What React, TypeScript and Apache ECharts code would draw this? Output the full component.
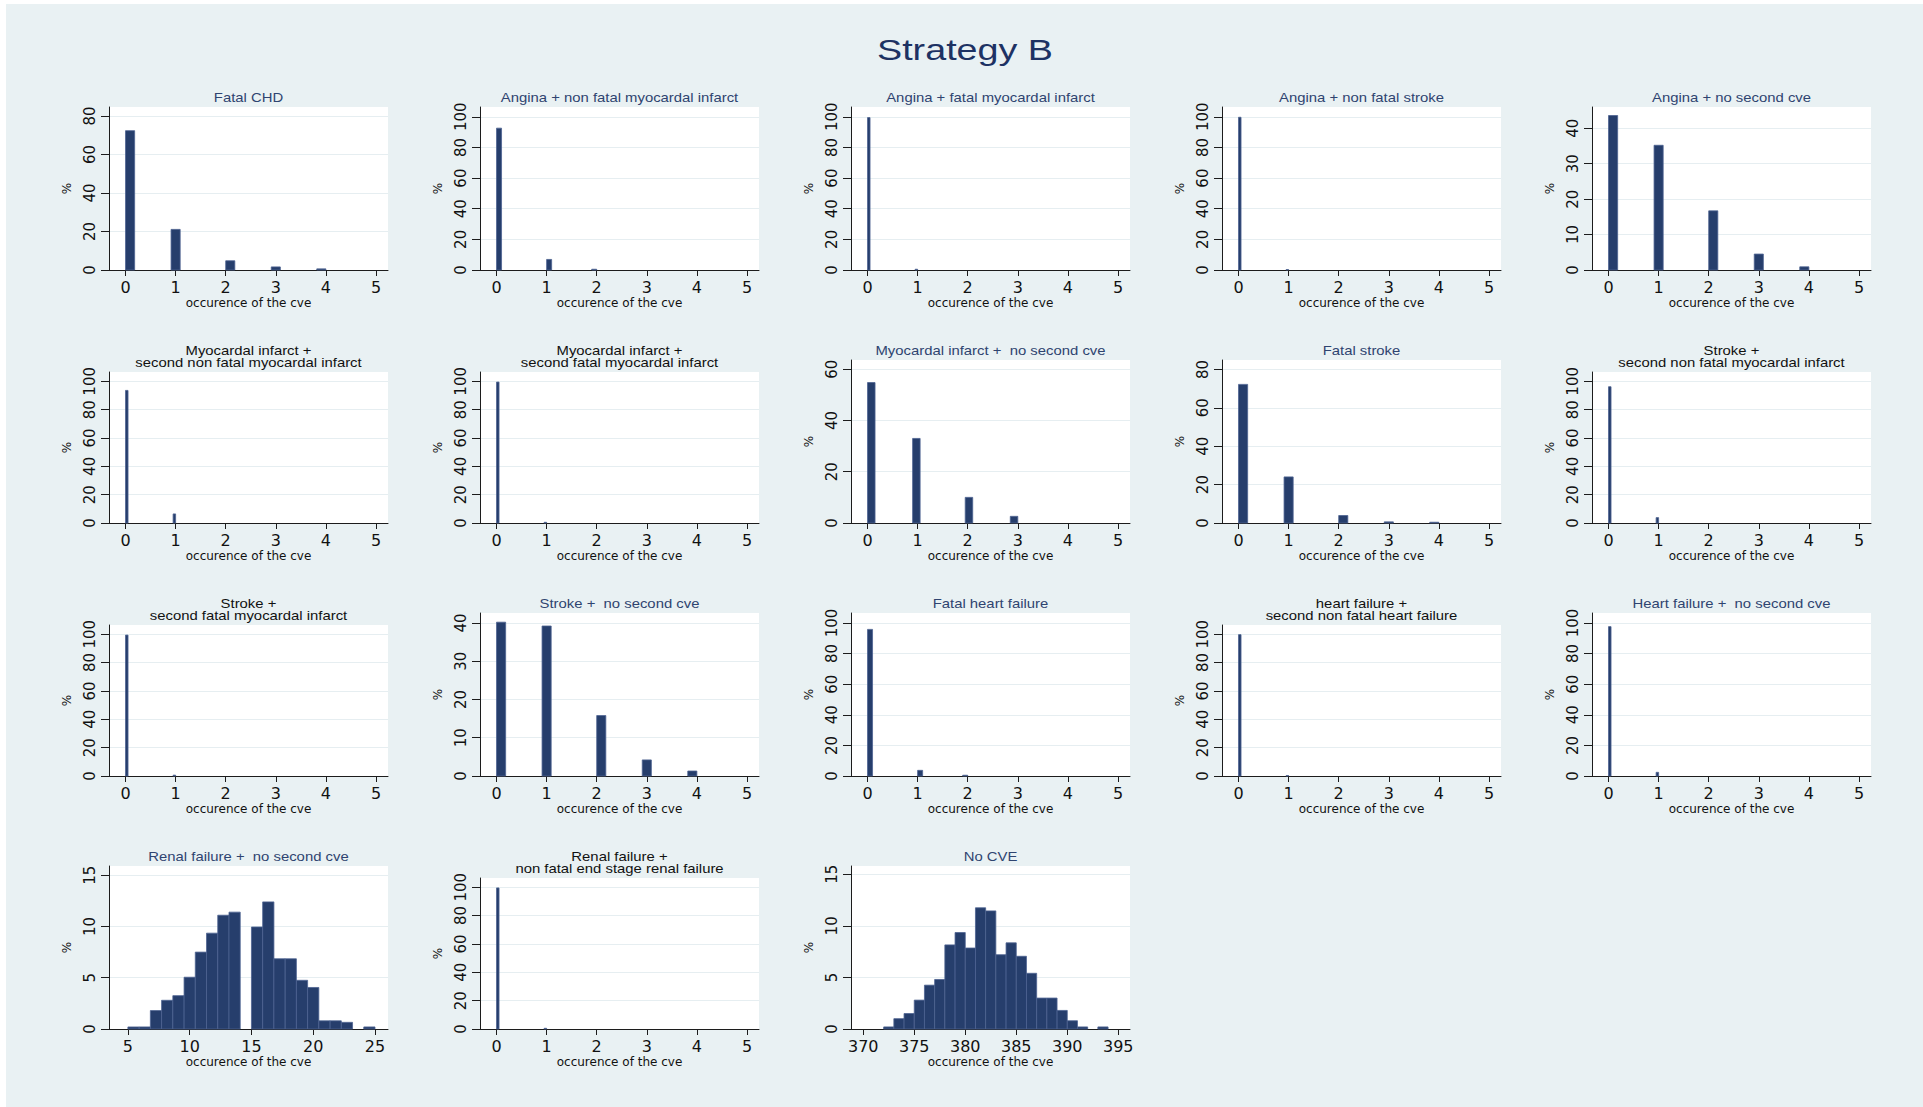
import React, { useEffect, useRef } from "react";
import * as echarts from "echarts";

// ---------- text ----------
const MAIN_TITLE = "Strategy B";
const X_AXIS_NAME = "occurence of the cve";
const Y_AXIS_NAME = "%";

const panelTitles = [
  "Fatal CHD",
  "Angina + non fatal myocardal infarct",
  "Angina + fatal myocardal infarct",
  "Angina + non fatal stroke",
  "Angina + no second cve",
  "Myocardal infarct +\nsecond non fatal myocardal infarct",
  "Myocardal infarct +\nsecond fatal myocardal infarct",
  "Myocardal infarct +  no second cve",
  "Fatal stroke",
  "Stroke +\nsecond non fatal myocardal infarct",
  "Stroke +\nsecond fatal myocardal infarct",
  "Stroke +  no second cve",
  "Fatal heart failure",
  "heart failure +\nsecond non fatal heart failure",
  "Heart failure +  no second cve",
  "Renal failure +  no second cve",
  "Renal failure +\nnon fatal end stage renal failure",
  "No CVE",
];

// ---------- bins (start of each drawn bin) ----------
const binStartsRange4 = [0, 0.909, 2.0, 2.909, 3.818];
const binWidthRange4 = 0.182;
const binStartsRange3 = [0, 0.9, 1.95, 2.85];
const binWidthRange3 = 0.15;
const binStartsRange2 = [0, 1.0, 1.9];
const binWidthRange2 = 0.1;
const binStartsRange1 = [0, 0.95];
const binWidthRange1 = 0.05;

const renalFirstBin = 5;
const renalBinWidth = 0.909;
const noCveFirstBin = 372;
const noCveBinWidth = 1;

// ---------- values (%) ----------
const fatalChd = [72.4, 21.1, 4.8, 1.6, 0.6];
const anginaNonFatalMi = [92.6, 6.9, 0.5];
const anginaFatalMi = [99.5, 0.5];
const anginaNonFatalStroke = [99.7, 0.3];
const anginaNoSecond = [43.6, 35.2, 16.7, 4.5, 0.9];
const miSecondNonFatalMi = [93.6, 6.4];
const miSecondFatalMi = [99.5, 0.5];
const miNoSecond = [54.8, 33.0, 10.0, 2.6];
const fatalStroke = [72.2, 24.0, 3.9, 0.6, 0.4];
const strokeSecondNonFatalMi = [96.2, 3.8];
const strokeSecondFatalMi = [99.4, 0.6];
const strokeNoSecond = [40.2, 39.2, 15.8, 4.2, 1.3];
const fatalHeartFailure = [95.8, 3.7, 0.5];
const hfSecondNonFatalHf = [99.7, 0.3];
const hfNoSecond = [97.6, 2.4];
const renalNoSecond = [
  0.2, 0.2, 1.8, 2.8, 3.25, 5.05, 7.5, 9.35, 11.1, 11.4, 0, 9.95, 12.4, 6.85,
  6.85, 4.75, 4.05, 0.8, 0.8, 0.65, 0, 0.2,
];
const renalNonFatalEsrf = [99.5, 0.5];
const noCve = [
  0.2, 1.0, 1.5, 2.8, 4.25, 4.8, 8.15, 9.35, 7.85, 11.75, 11.45, 7.2, 8.35,
  7.05, 5.4, 3.0, 3.0, 1.8, 0.8, 0.2, 0, 0.2,
];

// ---------- tick labels ----------
const countTicks = [0, 1, 2, 3, 4, 5];
const renalTicks = [5, 10, 15, 20, 25];
const noCveTicks = [370, 375, 380, 385, 390, 395];
const yTicks100 = [0, 20, 40, 60, 80, 100];
const yTicks80 = [0, 20, 40, 60, 80];
const yTicks60 = [0, 20, 40, 60];
const yTicks40 = [0, 10, 20, 30, 40];
const yTicks15 = [0, 5, 10, 15];

// ---------- styles / layout ----------
const FONT_AXIS = '"DejaVu Sans", "Liberation Sans", Arial, sans-serif';
const FONT_TITLE = '"Liberation Sans", Arial, sans-serif';
const BG = "#e9f1f3";
const BAR_FILL = "#263e6c";
const BAR_STROKE = "#4d6290";
const GRID_LINE = "#e6eef1";
const AXIS_COLOR = "#1c1c1c";
const TITLE_COLOR = "#2f4470";
const TITLE2_COLOR = "#111111";
const MAIN_COLOR = "#1d3263";

const COL_LEFT = [109, 480, 851, 1222, 1592];
const ROW_BOTTOM = [270, 523, 776, 1029];
const PLOT_W = 279;

type Panel = {
  values: number[];
  starts: number[] | null;
  first?: number;
  width: number;
  xMin: number;
  xMax: number;
  xTicks: number[];
  yTicks: number[];
  yMax: number;
};

const CNT_MIN = -0.33;
const CNT_MAX = 5.24;

const panels: Panel[] = [
  { values: fatalChd, starts: binStartsRange4, width: binWidthRange4, xMin: CNT_MIN, xMax: CNT_MAX, xTicks: countTicks, yTicks: yTicks80, yMax: 84.7 },
  { values: anginaNonFatalMi, starts: binStartsRange2, width: binWidthRange2, xMin: CNT_MIN, xMax: CNT_MAX, xTicks: countTicks, yTicks: yTicks100, yMax: 106.4 },
  { values: anginaFatalMi, starts: binStartsRange1, width: binWidthRange1, xMin: CNT_MIN, xMax: CNT_MAX, xTicks: countTicks, yTicks: yTicks100, yMax: 106.4 },
  { values: anginaNonFatalStroke, starts: binStartsRange1, width: binWidthRange1, xMin: CNT_MIN, xMax: CNT_MAX, xTicks: countTicks, yTicks: yTicks100, yMax: 106.4 },
  { values: anginaNoSecond, starts: binStartsRange4, width: binWidthRange4, xMin: CNT_MIN, xMax: CNT_MAX, xTicks: countTicks, yTicks: yTicks40, yMax: 46.0 },
  { values: miSecondNonFatalMi, starts: binStartsRange1, width: binWidthRange1, xMin: CNT_MIN, xMax: CNT_MAX, xTicks: countTicks, yTicks: yTicks100, yMax: 106.6 },
  { values: miSecondFatalMi, starts: binStartsRange1, width: binWidthRange1, xMin: CNT_MIN, xMax: CNT_MAX, xTicks: countTicks, yTicks: yTicks100, yMax: 106.6 },
  { values: miNoSecond, starts: binStartsRange3, width: binWidthRange3, xMin: CNT_MIN, xMax: CNT_MAX, xTicks: countTicks, yTicks: yTicks60, yMax: 63.6 },
  { values: fatalStroke, starts: binStartsRange4, width: binWidthRange4, xMin: CNT_MIN, xMax: CNT_MAX, xTicks: countTicks, yTicks: yTicks80, yMax: 84.9 },
  { values: strokeSecondNonFatalMi, starts: binStartsRange1, width: binWidthRange1, xMin: CNT_MIN, xMax: CNT_MAX, xTicks: countTicks, yTicks: yTicks100, yMax: 106.6 },
  { values: strokeSecondFatalMi, starts: binStartsRange1, width: binWidthRange1, xMin: CNT_MIN, xMax: CNT_MAX, xTicks: countTicks, yTicks: yTicks100, yMax: 106.5 },
  { values: strokeNoSecond, starts: binStartsRange4, width: binWidthRange4, xMin: CNT_MIN, xMax: CNT_MAX, xTicks: countTicks, yTicks: yTicks40, yMax: 42.6 },
  { values: fatalHeartFailure, starts: binStartsRange2, width: binWidthRange2, xMin: CNT_MIN, xMax: CNT_MAX, xTicks: countTicks, yTicks: yTicks100, yMax: 106.5 },
  { values: hfSecondNonFatalHf, starts: binStartsRange1, width: binWidthRange1, xMin: CNT_MIN, xMax: CNT_MAX, xTicks: countTicks, yTicks: yTicks100, yMax: 106.5 },
  { values: hfNoSecond, starts: binStartsRange1, width: binWidthRange1, xMin: CNT_MIN, xMax: CNT_MAX, xTicks: countTicks, yTicks: yTicks100, yMax: 106.5 },
  { values: renalNoSecond, starts: null, first: renalFirstBin, width: renalBinWidth, xMin: 3.47, xMax: 26.05, xTicks: renalTicks, yTicks: yTicks15, yMax: 15.9 },
  { values: renalNonFatalEsrf, starts: binStartsRange1, width: binWidthRange1, xMin: CNT_MIN, xMax: CNT_MAX, xTicks: countTicks, yTicks: yTicks100, yMax: 106.5 },
  { values: noCve, starts: null, first: noCveFirstBin, width: noCveBinWidth, xMin: 368.8, xMax: 396.15, xTicks: noCveTicks, yTicks: yTicks15, yMax: 15.8 },
];

function buildRows(p: Panel): number[][] {
  return p.values.map((v, k) => {
    const x0 = p.starts ? p.starts[k] : (p.first as number) + k * p.width;
    return [x0, x0 + p.width, v];
  });
}

function buildOption() {
  const grids: any[] = [];
  const xAxes: any[] = [];
  const yAxes: any[] = [];
  const series: any[] = [];
  const graphics: any[] = [
    {
      type: "rect",
      silent: true,
      z: -10,
      shape: { x: 6, y: 4, width: 1923, height: 1107 },
      style: { fill: BG },
    },
    {
      type: "text",
      x: 965,
      y: 50,
      scaleX: 1.3,
      style: {
        text: MAIN_TITLE,
        fill: MAIN_COLOR,
        font: `29px ${FONT_TITLE}`,
        align: "center",
        verticalAlign: "middle",
      },
    },
  ];

  panels.forEach((p, i) => {
    const col = i % 5;
    const row = Math.floor(i / 5);
    const title = panelTitles[i];
    const twoLine = title.indexOf("\n") >= 0;
    const h = twoLine ? 151 : 163;
    const left = COL_LEFT[col];
    const bottom = ROW_BOTTOM[row];
    const top = bottom - h;

    grids.push({
      left,
      top,
      width: PLOT_W,
      height: h,
      show: true,
      backgroundColor: "#ffffff",
      borderWidth: 0,
      containLabel: false,
    });

    const step = p.yTicks[1] - p.yTicks[0];

    xAxes.push({
      gridIndex: i,
      type: "value",
      min: p.xMin,
      max: p.xMax,
      axisLine: { show: true, onZero: false, lineStyle: { color: AXIS_COLOR, width: 1 } },
      axisTick: { show: true, length: 6, customValues: p.xTicks, lineStyle: { color: AXIS_COLOR, width: 1 } },
      axisLabel: {
        customValues: p.xTicks,
        fontSize: 16,
        fontFamily: FONT_AXIS,
        color: "#111",
        margin: 9,
      },
      splitLine: { show: false },
      name: X_AXIS_NAME,
      nameLocation: "middle",
      nameGap: 27,
      nameTextStyle: { fontSize: 12, fontFamily: FONT_AXIS, color: "#111" },
    });

    yAxes.push({
      gridIndex: i,
      type: "value",
      min: 0,
      max: p.yMax,
      interval: step,
      axisLine: { show: true, onZero: false, lineStyle: { color: AXIS_COLOR, width: 1 } },
      axisTick: { show: true, length: 8, customValues: p.yTicks, lineStyle: { color: AXIS_COLOR, width: 1 } },
      axisLabel: {
        customValues: p.yTicks,
        rotate: 90,
        fontSize: 15,
        fontFamily: FONT_AXIS,
        color: "#111",
        margin: 12,
      },
      splitLine: { show: true, lineStyle: { color: GRID_LINE, width: 1.2 } },
      name: Y_AXIS_NAME,
      nameLocation: "middle",
      nameGap: 36,
      nameRotate: 90,
      nameTextStyle: { fontSize: 12, fontFamily: FONT_AXIS, color: "#111" },
    });

    series.push({
      type: "custom",
      xAxisIndex: i,
      yAxisIndex: i,
      clip: false,
      encode: { x: [0, 1], y: 2 },
      data: buildRows(p),
      renderItem: (params: any, api: any) => {
        const x0 = api.value(0);
        const x1 = api.value(1);
        const v = api.value(2);
        if (!(v > 0)) return null;
        const a = api.coord([x0, v]);
        const b = api.coord([x1, 0]);
        return {
          type: "rect",
          shape: { x: a[0], y: a[1], width: b[0] - a[0], height: b[1] - a[1] },
          style: { fill: BAR_FILL, stroke: BAR_STROKE, lineWidth: 0.8 },
        };
      },
    });

    graphics.push({
      type: "text",
      x: left + PLOT_W / 2,
      y: top - 3,
      scaleX: 1.24,
      style: {
        text: title,
        fill: twoLine ? TITLE2_COLOR : TITLE_COLOR,
        font: `12px ${FONT_TITLE}`,
        lineHeight: 12,
        align: "center",
        verticalAlign: "bottom",
      },
    });
  });

  return {
    animation: false,
    backgroundColor: "#ffffff",
    grid: grids,
    xAxis: xAxes,
    yAxis: yAxes,
    series,
    graphic: { elements: graphics },
  };
}

export default function App() {
  const ref = useRef<HTMLDivElement>(null);
  useEffect(() => {
    document.body.style.margin = "0";
    if (!ref.current) return;
    const chart = echarts.init(ref.current, null, { renderer: "svg" });
    chart.setOption(buildOption() as any);
    return () => {
      chart.dispose();
    };
  }, []);
  return <div ref={ref} style={{ width: 1923, height: 1107 }} />;
}
